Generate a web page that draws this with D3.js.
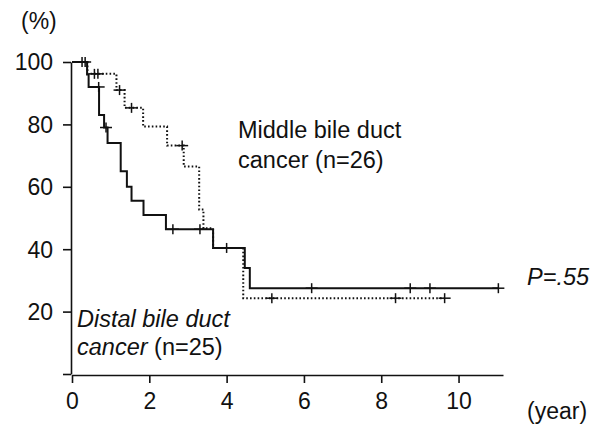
<!DOCTYPE html>
<html>
<head>
<meta charset="utf-8">
<script src="https://cdn.jsdelivr.net/npm/d3@7"></script>
<style>
  html, body { margin: 0; padding: 0; background: #fff; }
  svg { display: block; }
  text { font-family: "Liberation Sans", Arial, sans-serif; fill: #111; }
</style>
</head>
<body>
<svg id="chart" width="599" height="427"></svg>
<script>
// Distal bile duct cancer (solid line)
const distalTimes = [0, 0.39, 0.43, 0.70, 0.83, 0.92, 1.26, 1.42, 1.54, 1.85, 2.43, 3.65, 4.47, 4.60];
const distalSurv  = [100, 96, 92, 83, 79, 74, 65, 60, 55.5, 51, 46.4, 40.4, 34, 27.5];
const distalEnd = 11.03;
const distalCensor = [0.26, 0.69, 0.88, 2.61, 3.31, 4.0, 6.2, 8.75, 9.26, 11.03];

// Middle bile duct cancer (dotted line)
const middleTimes = [0, 0.40, 1.15, 1.36, 1.84, 2.46, 2.89, 3.29, 3.40, 3.65, 4.43];
const middleSurv  = [100, 96.2, 91, 85.3, 79.3, 73.2, 66.5, 52.7, 46.7, 40.4, 24.3];
const middleEnd = 9.64;
const middleCensor = [0.34, 0.58, 0.67, 1.23, 1.54, 2.85, 5.17, 8.37, 9.64];

const xTicks = [0, 2, 4, 6, 8, 10];
const yTicks = [0, 20, 40, 60, 80, 100];
const yTickLabels = ["", "20", "40", "60", "80", "100"];

const svg = d3.select("#chart");
const x = d3.scaleLinear().domain([0, 11.15]).range([72, 503]);
const y = d3.scaleLinear().domain([0, 100]).range([374, 62]);

// Axes
const yAxis = d3.axisLeft(y).tickValues(yTicks).tickFormat((d, i) => yTickLabels[i])
  .tickSize(8).tickSizeOuter(0).tickPadding(10);
const gy = svg.append("g").attr("transform", "translate(71,0)").call(yAxis);
gy.selectAll("path, line").attr("stroke", "#111").attr("stroke-width", 1.6);
gy.selectAll("text").style("font-size", "23px").attr("fill", "#111").attr("dy", "0.34em");

const xAxis = d3.axisBottom(x).tickValues(xTicks).tickFormat(d3.format("d"))
  .tickSize(8).tickSizeOuter(0).tickPadding(10);
const gx = svg.append("g").attr("transform", "translate(0,375)").call(xAxis);
gx.selectAll("path, line").attr("stroke", "#111").attr("stroke-width", 1.6);
gx.selectAll("text").style("font-size", "23px").attr("fill", "#111").attr("dy", "0.71em");

function stepPoints(times, surv, end) {
  const pts = times.map((t, i) => [t, surv[i]]);
  pts.push([end, surv[surv.length - 1]]);
  return pts;
}
function survAt(times, surv, t) {
  let v = surv[0];
  for (let i = 0; i < times.length; i++) if (times[i] <= t) v = surv[i];
  return v;
}
const line = d3.line().x(d => x(d[0])).y(d => y(d[1])).curve(d3.curveStepAfter);

// Middle (dotted)
svg.append("path")
  .datum(stepPoints(middleTimes, middleSurv, middleEnd))
  .attr("d", line).attr("fill", "none").attr("stroke", "#111")
  .attr("stroke-width", 2).attr("stroke-dasharray", "1.6,2.2");

// Distal (solid)
svg.append("path")
  .datum(stepPoints(distalTimes, distalSurv, distalEnd))
  .attr("d", line).attr("fill", "none").attr("stroke", "#111")
  .attr("stroke-width", 2);

function drawCensors(times, surv, cens) {
  const g = svg.append("g").attr("stroke", "#111").attr("stroke-width", 1.5);
  cens.forEach(t => {
    const cx = x(t), cy = y(survAt(times, surv, t));
    g.append("line").attr("x1", cx - 6).attr("x2", cx + 6).attr("y1", cy).attr("y2", cy);
    g.append("line").attr("x1", cx).attr("x2", cx).attr("y1", cy - 5).attr("y2", cy + 5);
  });
}
drawCensors(middleTimes, middleSurv, middleCensor);
drawCensors(distalTimes, distalSurv, distalCensor);

// Texts
svg.append("text").attr("x", 21).attr("y", 29).style("font-size", "23px").text("(%)");
svg.append("text").attr("x", 527).attr("y", 419).style("font-size", "23px").text("(year)");

svg.append("text").attr("x", 238).attr("y", 138).style("font-size", "23.5px").text("Middle bile duct");
svg.append("text").attr("x", 238).attr("y", 168).style("font-size", "23.5px").text("cancer (n=26)");

const t1 = svg.append("text").attr("x", 77).attr("y", 327).style("font-size", "23.5px")
  .style("font-style", "italic").text("Distal bile duct");
const t2 = svg.append("text").attr("x", 77).attr("y", 355).style("font-size", "23.5px");
t2.append("tspan").style("font-style", "italic").text("cancer");
t2.append("tspan").text(" (n=25)");

const p = svg.append("text").attr("x", 527).attr("y", 285).style("font-size", "23.5px");
p.append("tspan").style("font-style", "italic").text("P");
p.append("tspan").style("font-style", "italic").text("=.55");
</script>
</body>
</html>
